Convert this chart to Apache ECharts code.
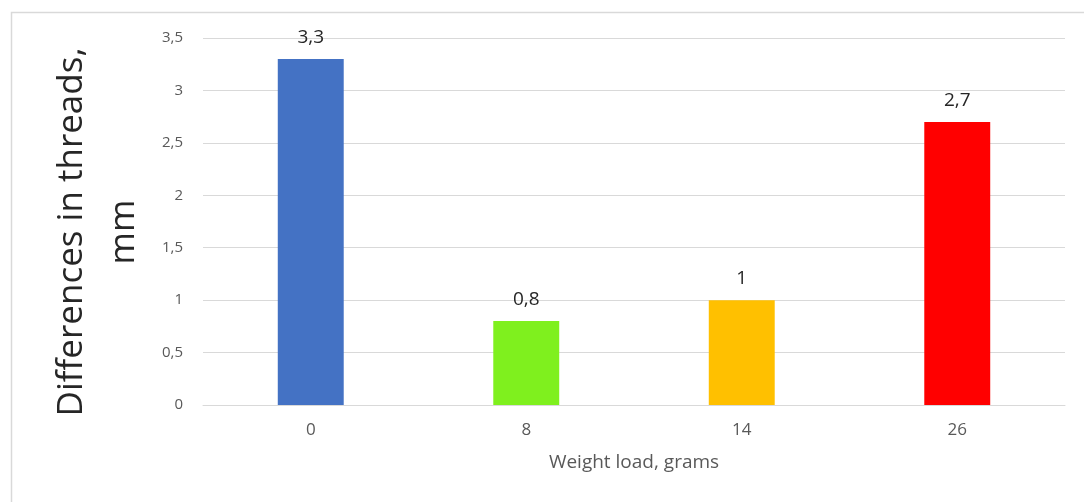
<!DOCTYPE html>
<html>
<head>
<meta charset="utf-8">
<script src="https://cdn.jsdelivr.net/npm/echarts@6/dist/echarts.min.js"></script>
<style>
html,body{margin:0;padding:0;background:#fff;}
#chart{width:1084px;height:502px;}
</style>
</head>
<body>
<div id="chart"></div>
<script>
var categories = ['0', '8', '14', '26'];
var values = [3.3, 0.8, 1, 2.7];
var barColors = ['#4472C4', '#7FF01E', '#FFC000', '#FF0000'];
var yTicks = { min: 0, max: 3.5, interval: 0.5 };
var xAxisName = 'Weight load, grams';
var yAxisName = 'Differences in threads,\nmm';

function comma(v) { return String(v).replace('.', ','); }

var chart = echarts.init(document.getElementById('chart'));
chart.setOption({
  animation: false,
  backgroundColor: '#fff',
  graphic: [{
    type: 'rect',
    shape: { x: 11.5, y: 12.5, width: 1200, height: 600 },
    style: { fill: 'none', stroke: '#d9d9d9', lineWidth: 1.5 },
    silent: true
  }],
  grid: { left: 203, right: 19, top: 38, bottom: 97 },
  xAxis: {
    type: 'category',
    data: categories,
    name: xAxisName,
    nameLocation: 'middle',
    nameGap: 48,
    nameTextStyle: { fontFamily: 'Open Sans', fontSize: 19, color: '#595959' },
    axisLine: { show: true, lineStyle: { color: '#d9d9d9', width: 1 } },
    axisTick: { show: false },
    axisLabel: { margin: 17, fontFamily: 'Open Sans', fontSize: 17, color: '#595959' }
  },
  yAxis: {
    type: 'value',
    min: yTicks.min,
    max: yTicks.max,
    interval: yTicks.interval,
    name: yAxisName,
    nameLocation: 'middle',
    nameRotate: 90,
    nameGap: 53,
    nameTextStyle: {
      fontFamily: 'Open Sans', fontSize: 35, color: '#262626',
      lineHeight: 52, padding: [0, 21, 0, 0]
    },
    axisLine: { show: false },
    axisTick: { show: false },
    splitLine: { lineStyle: { color: '#d9d9d9', width: 1 } },
    axisLabel: {
      margin: 20, fontFamily: 'Open Sans', fontSize: 15, color: '#595959',
      formatter: function (v) { return comma(v); }
    }
  },
  series: [{
    type: 'bar',
    barWidth: '30.6%',
    data: values.map(function (v, i) {
      return { value: v, itemStyle: { color: barColors[i] } };
    }),
    label: {
      show: true,
      position: 'top',
      distance: 12,
      fontFamily: 'Open Sans',
      fontSize: 19,
      color: '#262626',
      formatter: function (p) { return comma(p.value); }
    }
  }]
});
</script>
</body>
</html>
